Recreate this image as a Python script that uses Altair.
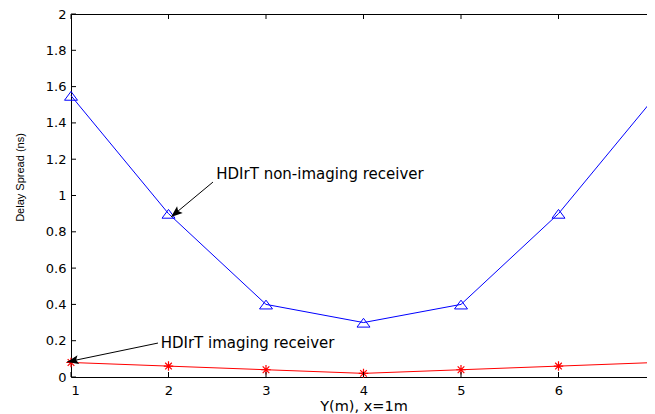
import math
import altair as alt
import pandas as pd

# ---- data ----
x_pos = [1, 2, 3, 4, 5, 6, 7]
non_imaging = [1.55, 0.90, 0.40, 0.30, 0.40, 0.90, 1.55]
imaging = [0.08, 0.06, 0.04, 0.02, 0.04, 0.06, 0.08]

x_ticks = [1, 2, 3, 4, 5, 6, 7]
y_ticks = [0, 0.2, 0.4, 0.6, 0.8, 1, 1.2, 1.4, 1.6, 1.8, 2]

ann_text = ["HDIrT non-imaging receiver", "HDIrT imaging receiver"]
ann_text_x = [2.49, 1.92]
ann_text_y = [1.118, 0.187]
arrow_tail_x = [2.456, 1.892]
arrow_tail_y = [1.074, 0.187]
arrow_head_x = [2.026, 0.96]
arrow_head_y = [0.882, 0.083]

W, H = 585, 363
XMIN, XMAX, YMIN, YMAX = 1, 7, 0, 2
FONT = "DejaVu Sans"
YFONT = "Liberation Sans"

df_lines = pd.DataFrame({"x": x_pos, "non": non_imaging, "img": imaging})
df_xt = pd.DataFrame({"x": x_ticks})
df_yt = pd.DataFrame({"y": y_ticks})

px_x = W / (XMAX - XMIN)
px_y = H / (YMAX - YMIN)
angles = []
for tx, ty, hx, hy in zip(arrow_tail_x, arrow_tail_y, arrow_head_x, arrow_head_y):
    dx = (hx - tx) * px_x
    dy = -(hy - ty) * px_y
    angles.append(math.degrees(math.atan2(dx, -dy)) % 360)

df_arrows = pd.DataFrame({
    "tx": arrow_tail_x, "ty": arrow_tail_y,
    "hx": arrow_head_x, "hy": arrow_head_y, "ang": angles,
})
df_text = pd.DataFrame({"label": ann_text, "x": ann_text_x, "y": ann_text_y})

xs = alt.Scale(domain=[XMIN, XMAX], nice=False, zero=False)
ys = alt.Scale(domain=[YMIN, YMAX], nice=False, zero=False)

x_axis = alt.Axis(values=x_ticks, format="d", title="Y(m), x=1m", grid=False,
                  ticks=False, domain=False, labelFont=FONT, labelFontSize=13,
                  labelColor="black", labelPadding=7, labelOverlap=False,
                  titleFont=FONT, titleFontSize=14.5, titleFontWeight="normal",
                  titleColor="black", titleY=29, titleBaseline="middle")
y_axis = alt.Axis(values=y_ticks, format="~g", title="Delay Spread (ns)", grid=False,
                  ticks=False, domain=False, labelFont=FONT, labelFontSize=13,
                  labelColor="black", labelPadding=5, labelOverlap=False,
                  labelSeparation=0,
                  titleFont=YFONT, titleFontSize=11, titleFontWeight="normal",
                  titleColor="black", titleX=-51, titleY=163, titleAngle=270,
                  titleAlign="center", titleBaseline="middle")


def X(field):
    return alt.X(field, scale=xs, axis=x_axis)


def Y(field):
    return alt.Y(field, scale=ys, axis=y_axis)


base = alt.Chart(df_lines)

blue_line = base.mark_line(color="#0000ff", strokeWidth=1).encode(
    x=X("x:Q"), y=Y("non:Q"),
)
blue_pts = base.mark_point(
    shape="M0,-0.65 L1,0.7 L-1,0.7 Z", size=169, filled=False,
    color="#0000ff", strokeWidth=1, opacity=1,
).encode(x=X("x:Q"), y=Y("non:Q"))

red_line = base.mark_line(color="#ff0000", strokeWidth=1).encode(
    x=X("x:Q"), y=Y("img:Q")
)
red_pts = base.mark_point(
    shape="M-1,0L1,0M0,-1L0,1M-0.7,-0.7L0.7,0.7M-0.7,0.7L0.7,-0.7",
    size=90, filled=False, color="#ff0000", strokeWidth=1.2, opacity=1,
).encode(x=X("x:Q"), y=Y("img:Q"))

# inward ticks on all four sides
tick_len = 5
tick_kw = dict(size=tick_len, thickness=1, color="black", opacity=1)
xt_bottom = alt.Chart(df_xt).mark_tick(orient="vertical", **tick_kw).encode(
    x=X("x:Q"), y=alt.value(H - tick_len / 2))
xt_top = alt.Chart(df_xt).mark_tick(orient="vertical", **tick_kw).encode(
    x=X("x:Q"), y=alt.value(tick_len / 2))
yt_left = alt.Chart(df_yt).mark_tick(orient="horizontal", **tick_kw).encode(
    y=Y("y:Q"), x=alt.value(tick_len / 2))
yt_right = alt.Chart(df_yt).mark_tick(orient="horizontal", **tick_kw).encode(
    y=Y("y:Q"), x=alt.value(W - tick_len / 2))

arrow_lines = alt.Chart(df_arrows).mark_rule(color="black", strokeWidth=1).encode(
    x=X("tx:Q"), y=Y("ty:Q"), x2="hx:Q", y2="hy:Q",
)
arrow_heads = alt.Chart(df_arrows).mark_point(
    shape="M0,0 L0.38,1 L0,0.8 L-0.38,1 Z", size=529, filled=True,
    color="black", opacity=1, strokeWidth=0,
).encode(
    x=X("hx:Q"), y=Y("hy:Q"),
    angle=alt.Angle("ang:Q", scale=None),
)
texts = alt.Chart(df_text).mark_text(
    align="left", baseline="middle", font=FONT, fontSize=15, color="black"
).encode(x=X("x:Q"), y=Y("y:Q"), text="label:N")

chart = alt.layer(
    blue_line, blue_pts, red_line, red_pts,
    xt_bottom, xt_top, yt_left, yt_right,
    arrow_lines, arrow_heads, texts,
).properties(
    width=W, height=H,
    autosize=alt.AutoSizeParams(type="none"),
    padding={"left": 63, "top": 6, "right": -9, "bottom": 37},
    background="white",
).configure_view(stroke="black", strokeWidth=1)

chart.save("out.html", embed_options={"renderer": "svg", "actions": False})
